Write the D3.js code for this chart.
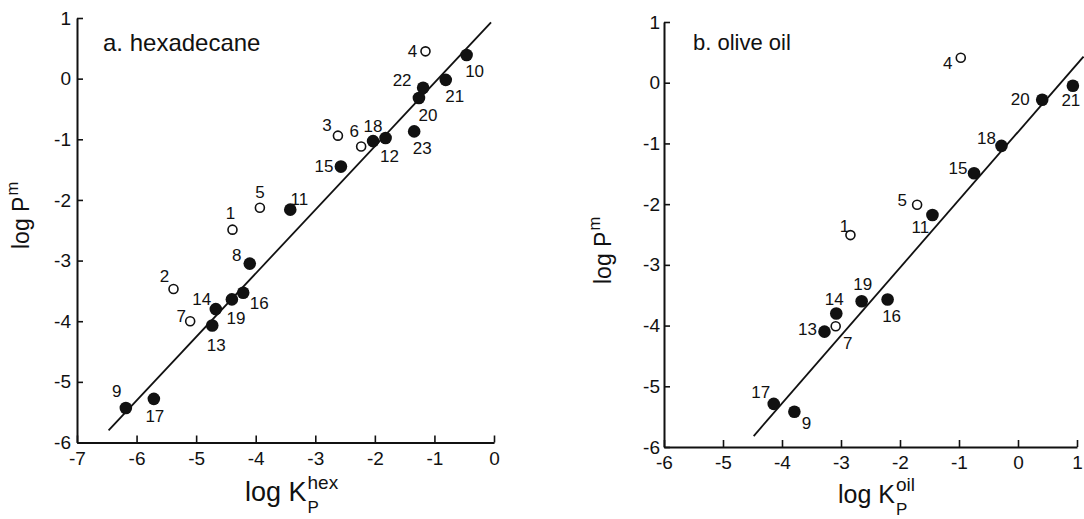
<!DOCTYPE html>
<html>
<head>
<meta charset="utf-8">
<script src="https://cdn.jsdelivr.net/npm/d3@7"></script>
<style>
  html, body { margin: 0; padding: 0; background: #fff; }
  svg { display: block; }
  text { font-family: "Liberation Sans", Arial, sans-serif; fill: #111; }
</style>
</head>
<body>
<svg id="chart" width="1084" height="519"></svg>
<script>
// Panel a: partitioning into hexadecane
const hexIds   = ["1","2","3","4","5","6","7","8","9","10","11","12","13","14","15","16","17","18","19","20","21","22","23"];
const hexLogK  = [-4.39,-5.38,-2.62,-1.15,-3.93,-2.23,-5.10,-4.10,-6.18,-0.46,-3.42,-1.82,-4.73,-4.67,-2.57,-4.21,-5.71,-2.03,-4.40,-1.26,-0.81,-1.19,-1.34];
const hexLogP  = [-2.49,-3.47,-0.94,0.45,-2.13,-1.12,-4.00,-3.05,-5.43,0.39,-2.16,-0.98,-4.07,-3.80,-1.45,-3.53,-5.28,-1.03,-3.64,-0.32,-0.02,-0.15,-0.87];
const hexOpen  = [true,true,true,true,true,true,true,false,false,false,false,false,false,false,false,false,false,false,false,false,false,false,false];
const hexFit   = { slope: 1.048, intercept: 0.98, from: -6.47, to: -0.05 };

// Panel b: partitioning into olive oil
const oilIds   = ["1","4","5","7","9","11","13","14","15","16","17","18","19","20","21"];
const oilLogK  = [-2.84,-0.97,-1.71,-3.09,-3.79,-1.45,-3.28,-3.08,-0.745,-2.21,-4.14,-0.28,-2.65,0.41,0.93];
const oilLogP  = [-2.51,0.41,-2.01,-4.01,-5.42,-2.18,-4.10,-3.80,-1.49,-3.57,-5.29,-1.04,-3.60,-0.28,-0.05];
const oilOpen  = [true,true,true,true,false,false,false,false,false,false,false,false,false,false,false];
const oilFit   = { slope: 1.118, intercept: -0.811, from: -4.48, to: 1.11 };

// Tick values
const hexXTicks = [-7,-6,-5,-4,-3,-2,-1,0];
const oilXTicks = [-6,-5,-4,-3,-2,-1,0,1];
const yTicks    = [-6,-5,-4,-3,-2,-1,0,1];

// Where each point number sits relative to its marker (pixels)
const hexLabelOffset = {
  "1":[-2,-16],"2":[-9,-13],"3":[-11,-10],"4":[-13,0],"5":[0,-15],"6":[-7,-15],"7":[-9,-5],
  "8":[-13,-8],"9":[-9,-16],"10":[8,17],"11":[9,-10],"12":[4,18],"13":[4,20],"14":[-14,-10],
  "15":[-17,0],"16":[16,11],"17":[1,18],"18":[0,-15],"19":[4,19],"20":[9,17],"21":[9,17],
  "22":[-21,-7],"23":[8,17]
};
const oilLabelOffset = {
  "1":[-6,-9],"4":[-13,6],"5":[-15,-4],"7":[12,17],"9":[12,12],"11":[-12,12],"13":[-17,-2],
  "14":[-2,-14],"15":[-16,-5],"16":[4,17],"17":[-13,-11],"18":[-15,-7],"19":[1,-17],"20":[-22,0],"21":[-2,15]
};

const svg = d3.select("#chart");

function drawPanel(cfg) {
  const x = d3.scaleLinear().domain(cfg.xDomain).range(cfg.xRange);
  const y = d3.scaleLinear().domain([-6, 1]).range(cfg.yRange);
  const g = svg.append("g");

  // axes, ticks pointing inward
  const xAxis = g.append("g")
    .attr("transform", `translate(0,${cfg.yRange[0]})`)
    .call(d3.axisBottom(x).tickValues(cfg.xTicks).tickSize(-7).tickSizeOuter(0)
      .tickPadding(9).tickFormat(d3.format("d")));
  const yAxis = g.append("g")
    .attr("transform", `translate(${cfg.xRange[0]},0)`)
    .call(d3.axisLeft(y).tickValues(yTicks).tickSize(-6).tickSizeOuter(0)
      .tickPadding(cfg.yPad).tickFormat(d3.format("d")));
  [xAxis, yAxis].forEach(a => {
    a.select(".domain").attr("stroke", "#111").attr("stroke-width", 2);
    a.selectAll(".tick line").attr("stroke", "#111").attr("stroke-width", 1.6);
    a.selectAll(".tick text").attr("font-size", 19).attr("fill", "#111")
      .attr("font-family", "Liberation Sans, Arial, sans-serif")
      .text(d => d < 0 ? "-" + Math.abs(d) : d);
  });

  // regression line
  const f = cfg.fit;
  g.append("line")
    .attr("x1", x(f.from)).attr("y1", y(f.intercept + f.slope * f.from))
    .attr("x2", x(f.to)).attr("y2", y(f.intercept + f.slope * f.to))
    .attr("stroke", "#111").attr("stroke-width", 1.8);

  const pts = cfg.ids.map((id, i) => ({ id, k: cfg.logK[i], p: cfg.logP[i], open: cfg.open[i] }));

  g.selectAll("circle.pt").data(pts).join("circle")
    .attr("class", "pt")
    .attr("cx", d => x(d.k)).attr("cy", d => y(d.p))
    .attr("r", d => d.open ? 4.5 : 6.3)
    .attr("fill", d => d.open ? "#fff" : "#111")
    .attr("stroke", "#111")
    .attr("stroke-width", d => d.open ? 1.6 : 0);

  g.selectAll("text.num").data(pts).join("text")
    .attr("class", "num")
    .attr("x", d => x(d.k) + cfg.offsets[d.id][0])
    .attr("y", d => y(d.p) + cfg.offsets[d.id][1])
    .attr("text-anchor", "middle")
    .attr("dominant-baseline", "central")
    .attr("font-size", 17)
    .text(d => d.id);

  // panel title
  g.append("text").attr("x", cfg.title[1]).attr("y", cfg.title[2])
    .attr("font-size", cfg.title[3]).text(cfg.title[0]);

  // x-axis title: log K with subscript P and superscript solvent
  const xt = cfg.xTitle;
  const main = g.append("text").attr("x", xt.x).attr("y", xt.y).attr("font-size", xt.size).text("log K");
  const kw = main.node().getComputedTextLength();
  g.append("text").attr("x", xt.x + kw + 1).attr("y", xt.y + 12).attr("font-size", 17).text("P");
  g.append("text").attr("x", xt.x + kw + 1).attr("y", xt.y - 12).attr("font-size", 19).text(xt.sup);

  // y-axis title: log P^m
  const yt = cfg.yTitle;
  const t = g.append("text")
    .attr("transform", `translate(${yt.x},${yt.y}) rotate(-90)`)
    .attr("font-size", yt.size);
  t.append("tspan").text("log P");
  t.append("tspan").attr("dy", -11).attr("dx", 1).attr("font-size", yt.size * 0.72).text("m");
}

drawPanel({
  xDomain: [-7, 0], xRange: [77, 494], yRange: [442.5, 18],
  xTicks: hexXTicks, yPad: 6,
  ids: hexIds, logK: hexLogK, logP: hexLogP, open: hexOpen, fit: hexFit,
  offsets: hexLabelOffset,
  title: ["a. hexadecane", 103, 51, 24],
  xTitle: { x: 245, y: 501, size: 27, sup: "hex" },
  yTitle: { x: 29, y: 249, size: 23 }
});

drawPanel({
  xDomain: [-6, 1], xRange: [664, 1077], yRange: [447, 22],
  xTicks: oilXTicks, yPad: 4,
  ids: oilIds, logK: oilLogK, logP: oilLogP, open: oilOpen, fit: oilFit,
  offsets: oilLabelOffset,
  title: ["b. olive oil", 693, 50, 22],
  xTitle: { x: 838, y: 503, size: 25, sup: "oil" },
  yTitle: { x: 611, y: 284, size: 23 }
});
</script>
</body>
</html>
